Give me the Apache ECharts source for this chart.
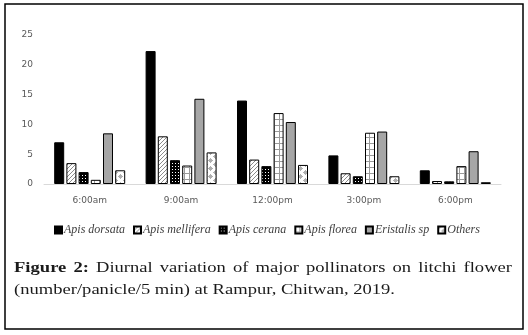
<!DOCTYPE html>
<html>
<head>
<meta charset="utf-8">
<script src="https://cdn.jsdelivr.net/npm/echarts@6/dist/echarts.min.js"></script>
<style>
html,body{margin:0;padding:0;background:#fff;}
#main{width:528px;height:335px;}
</style>
</head>
<body>
<div id="main"></div>
<script>
// categories and series values (number/panicle/5 min)
var times = ['6:00am', '9:00am', '12:00pm', '3:00pm', '6:00pm'];
var apisDorsata   = [7.0, 22.3, 14.0, 4.8, 2.3];
var apisMellifera = [3.5, 8.0, 4.1, 1.8, 0.5];
var apisCerana    = [2.0, 4.0, 3.0, 1.3, 0.45];
var apisFlorea    = [0.7, 3.1, 11.9, 8.6, 3.0];
var eristalis     = [8.5, 14.3, 10.4, 8.8, 5.5];
var others        = [2.3, 5.3, 3.2, 1.3, 0.3];
var yTicks = [0, 5, 10, 15, 20, 25];

var captionLine1 = ['Figure', '2:', 'Diurnal', 'variation', 'of', 'major', 'pollinators', 'on', 'litchi', 'flower'];
var captionLine2 = '(number/panicle/5 min) at Rampur, Chitwan, 2019.';

function makePattern(w, h, draw) {
    var c = document.createElement('canvas');
    c.width = w; c.height = h;
    var ctx = c.getContext('2d');
    draw(ctx);
    return {image: c, repeat: 'repeat'};
}

var hatch = makePattern(4, 4, function (ctx) {
    ctx.fillStyle = '#fff'; ctx.fillRect(0, 0, 4, 4);
    ctx.strokeStyle = '#8c8c8c'; ctx.lineWidth = 1;
    [-4, 0, 4].forEach(function (o) {
        ctx.beginPath(); ctx.moveTo(o, 4); ctx.lineTo(o + 4, 0); ctx.stroke();
    });
});
var dots = makePattern(3, 3, function (ctx) {
    ctx.fillStyle = '#000'; ctx.fillRect(0, 0, 3, 3);
    ctx.fillStyle = '#fff'; ctx.fillRect(1, 1, 1, 1);
});
var gridPat = makePattern(5, 6, function (ctx) {
    ctx.fillStyle = '#fff'; ctx.fillRect(0, 0, 5, 6);
    ctx.fillStyle = '#9a9a9a';
    ctx.fillRect(4, 0, 1, 6);
    ctx.fillRect(0, 5, 5, 1);
});
var plus = makePattern(10, 8, function (ctx) {
    ctx.fillStyle = '#fff'; ctx.fillRect(0, 0, 10, 8);
    ctx.fillStyle = '#b0b0b0';
    function p(x, y) { ctx.fillRect(x, y - 2, 1, 5); ctx.fillRect(x - 2, y, 5, 1); ctx.fillRect(x - 1, y - 1, 3, 3); }
    p(5, 4); p(0, 0); p(10, 0); p(0, 8); p(10, 8);
});

function bar(name, data, color) {
    return {
        name: name, type: 'bar', data: data,
        barWidth: 10, barGap: '22%',
        itemStyle: {color: color, borderColor: '#000', borderWidth: 1}
    };
}

// caption: justified first line, stretched to the width of the original typeface
var capFont = '13px "Liberation Serif"';
var capBold = 'bold 13px "Liberation Serif"';
var mctx = document.createElement('canvas').getContext('2d');
var capLeft = 14, capRight = 512, line2End = 395;
mctx.font = capFont;
var sx = (line2End - capLeft) / mctx.measureText(captionLine2).width;
var widths = captionLine1.map(function (w, i) {
    mctx.font = i < 2 ? capBold : capFont;
    return mctx.measureText(w).width;
});
var sumW = widths.reduce(function (a, b) { return a + b; }, 0);
var avail = (capRight - capLeft) / sx;
var gap = (avail - sumW) / (captionLine1.length - 1);
var capChildren = [];
var cx = 0;
captionLine1.forEach(function (w, i) {
    capChildren.push({
        type: 'text', x: cx, y: 0,
        style: {text: w, font: i < 2 ? capBold : capFont, fill: '#1a1a1a', verticalAlign: 'middle'}
    });
    cx += widths[i] + gap;
});
capChildren.push({
    type: 'text', x: 0, y: 20,
    style: {text: captionLine2, font: capFont, fill: '#1a1a1a', verticalAlign: 'middle'}
});

var graphics = [
    {type: 'rect', shape: {x: 5, y: 4, width: 518, height: 325},
     style: {fill: null, stroke: '#000', lineWidth: 1.5}},
    {type: 'group', x: capLeft, y: 268, scaleX: sx, scaleY: 1.1, children: capChildren}
];

var chart = echarts.init(document.getElementById('main'));
chart.setOption({
    animation: false,
    backgroundColor: '#fff',
    grid: {left: 44, right: 27, top: 35, bottom: 151},
    legend: {
        data: ['Apis dorsata', 'Apis mellifera', 'Apis cerana', 'Apis florea', 'Eristalis sp', 'Others'],
        left: 49, top: 219,
        itemWidth: 7, itemHeight: 7, itemGap: 8,
        icon: 'rect',
        textStyle: {fontFamily: 'Liberation Serif', fontStyle: 'italic', fontSize: 12, color: '#404040', padding: [0, 0, 0, -3]}
    },
    xAxis: {
        type: 'category', data: times,
        axisLine: {lineStyle: {color: '#d9d9d9'}},
        axisTick: {show: false},
        axisLabel: {color: '#595959', fontSize: 9, fontFamily: 'DejaVu Sans', margin: 12}
    },
    yAxis: {
        type: 'value', min: yTicks[0], max: yTicks[yTicks.length - 1], interval: 5,
        axisLine: {show: false}, axisTick: {show: false},
        splitLine: {show: false},
        axisLabel: {color: '#595959', fontSize: 9, fontFamily: 'DejaVu Sans', margin: 11}
    },
    series: [
        bar('Apis dorsata', apisDorsata, '#000'),
        bar('Apis mellifera', apisMellifera, hatch),
        bar('Apis cerana', apisCerana, dots),
        bar('Apis florea', apisFlorea, gridPat),
        bar('Eristalis sp', eristalis, '#a6a6a6'),
        bar('Others', others, plus)
    ],
    graphic: graphics
});
</script>
</body>
</html>
